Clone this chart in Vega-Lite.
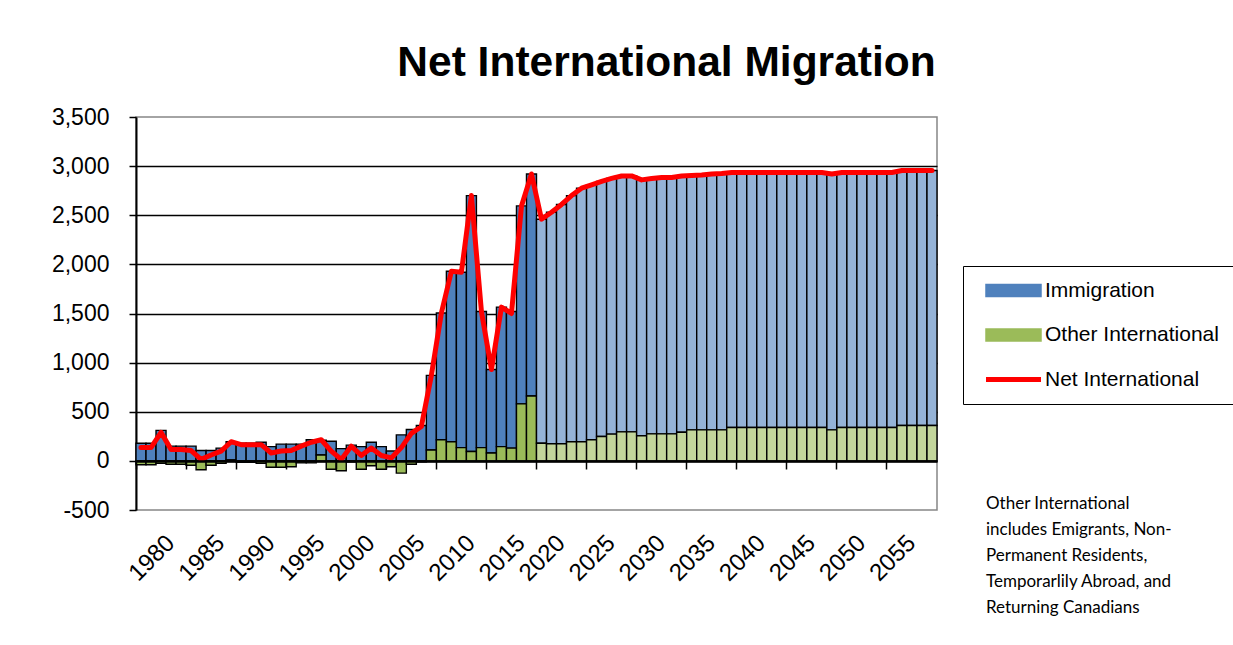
{
  "$schema": "https://vega.github.io/schema/vega-lite/v6.json",
  "autosize": "none",
  "width": 801,
  "height": 393,
  "padding": {"left": 136, "top": 117, "right": 296, "bottom": 135},
  "background": "white",
  "config": {
    "font": "Liberation Sans",
    "view": {"stroke": "#868686", "strokeWidth": 1.5}
  },
  "title": {
    "text": "Net International Migration",
    "font": "Liberation Sans",
    "fontSize": 42.5,
    "fontWeight": "bold",
    "color": "black",
    "anchor": "middle",
    "frame": "group",
    "dx": 130,
    "offset": 22
  },
  "datasets": {
    "mig": [
      {"year":1977,"series":"Immigration","value":180},{"year":1977,"series":"Other International","value":-40},{"year":1977,"series":"Net International","value":135},
      {"year":1978,"series":"Immigration","value":180},{"year":1978,"series":"Other International","value":-40},{"year":1978,"series":"Net International","value":135},
      {"year":1979,"series":"Immigration","value":310},{"year":1979,"series":"Other International","value":-25},{"year":1979,"series":"Net International","value":290},
      {"year":1980,"series":"Immigration","value":150},{"year":1980,"series":"Other International","value":-35},{"year":1980,"series":"Net International","value":115},
      {"year":1981,"series":"Immigration","value":150},{"year":1981,"series":"Other International","value":-35},{"year":1981,"series":"Net International","value":115},
      {"year":1982,"series":"Immigration","value":150},{"year":1982,"series":"Other International","value":-45},{"year":1982,"series":"Net International","value":105},
      {"year":1983,"series":"Immigration","value":105},{"year":1983,"series":"Other International","value":-90},{"year":1983,"series":"Net International","value":15},
      {"year":1984,"series":"Immigration","value":105},{"year":1984,"series":"Other International","value":-45},{"year":1984,"series":"Net International","value":60},
      {"year":1985,"series":"Immigration","value":130},{"year":1985,"series":"Other International","value":-25},{"year":1985,"series":"Net International","value":100},
      {"year":1986,"series":"Immigration","value":185},{"year":1986,"series":"Other International","value":10},{"year":1986,"series":"Net International","value":195},
      {"year":1987,"series":"Immigration","value":180},{"year":1987,"series":"Other International","value":-15},{"year":1987,"series":"Net International","value":165},
      {"year":1988,"series":"Immigration","value":180},{"year":1988,"series":"Other International","value":-15},{"year":1988,"series":"Net International","value":165},
      {"year":1989,"series":"Immigration","value":190},{"year":1989,"series":"Other International","value":-25},{"year":1989,"series":"Net International","value":165},
      {"year":1990,"series":"Immigration","value":145},{"year":1990,"series":"Other International","value":-65},{"year":1990,"series":"Net International","value":80},
      {"year":1991,"series":"Immigration","value":170},{"year":1991,"series":"Other International","value":-65},{"year":1991,"series":"Net International","value":100},
      {"year":1992,"series":"Immigration","value":170},{"year":1992,"series":"Other International","value":-60},{"year":1992,"series":"Net International","value":105},
      {"year":1993,"series":"Immigration","value":170},{"year":1993,"series":"Other International","value":-20},{"year":1993,"series":"Net International","value":150},
      {"year":1994,"series":"Immigration","value":215},{"year":1994,"series":"Other International","value":-20},{"year":1994,"series":"Net International","value":190},
      {"year":1995,"series":"Immigration","value":150},{"year":1995,"series":"Other International","value":60},{"year":1995,"series":"Net International","value":215},
      {"year":1996,"series":"Immigration","value":200},{"year":1996,"series":"Other International","value":-85},{"year":1996,"series":"Net International","value":100},
      {"year":1997,"series":"Immigration","value":125},{"year":1997,"series":"Other International","value":-100},{"year":1997,"series":"Net International","value":15},
      {"year":1998,"series":"Immigration","value":160},{"year":1998,"series":"Other International","value":-10},{"year":1998,"series":"Net International","value":150},
      {"year":1999,"series":"Immigration","value":145},{"year":1999,"series":"Other International","value":-85},{"year":1999,"series":"Net International","value":55},
      {"year":2000,"series":"Immigration","value":190},{"year":2000,"series":"Other International","value":-50},{"year":2000,"series":"Net International","value":130},
      {"year":2001,"series":"Immigration","value":145},{"year":2001,"series":"Other International","value":-85},{"year":2001,"series":"Net International","value":55},
      {"year":2002,"series":"Immigration","value":100},{"year":2002,"series":"Other International","value":-60},{"year":2002,"series":"Net International","value":30},
      {"year":2003,"series":"Immigration","value":265},{"year":2003,"series":"Other International","value":-125},{"year":2003,"series":"Net International","value":135},
      {"year":2004,"series":"Immigration","value":320},{"year":2004,"series":"Other International","value":-35},{"year":2004,"series":"Net International","value":280},
      {"year":2005,"series":"Immigration","value":360},{"year":2005,"series":"Other International","value":-10},{"year":2005,"series":"Net International","value":350},
      {"year":2006,"series":"Immigration","value":760},{"year":2006,"series":"Other International","value":110},{"year":2006,"series":"Net International","value":870},
      {"year":2007,"series":"Immigration","value":1290},{"year":2007,"series":"Other International","value":215},{"year":2007,"series":"Net International","value":1505},
      {"year":2008,"series":"Immigration","value":1735},{"year":2008,"series":"Other International","value":195},{"year":2008,"series":"Net International","value":1930},
      {"year":2009,"series":"Immigration","value":1785},{"year":2009,"series":"Other International","value":135},{"year":2009,"series":"Net International","value":1920},
      {"year":2010,"series":"Immigration","value":2605},{"year":2010,"series":"Other International","value":95},{"year":2010,"series":"Net International","value":2700},
      {"year":2011,"series":"Immigration","value":1385},{"year":2011,"series":"Other International","value":135},{"year":2011,"series":"Net International","value":1520},
      {"year":2012,"series":"Immigration","value":850},{"year":2012,"series":"Other International","value":80},{"year":2012,"series":"Net International","value":930},
      {"year":2013,"series":"Immigration","value":1420},{"year":2013,"series":"Other International","value":145},{"year":2013,"series":"Net International","value":1565},
      {"year":2014,"series":"Immigration","value":1390},{"year":2014,"series":"Other International","value":130},{"year":2014,"series":"Net International","value":1500},
      {"year":2015,"series":"Immigration","value":2015},{"year":2015,"series":"Other International","value":580},{"year":2015,"series":"Net International","value":2595},
      {"year":2016,"series":"Immigration","value":2260},{"year":2016,"series":"Other International","value":660},{"year":2016,"series":"Net International","value":2920},
      {"year":2018,"series":"Immigration projected","value":2280},{"year":2018,"series":"Other International projected","value":180},{"year":2018,"series":"Net International","value":2460},
      {"year":2019,"series":"Immigration projected","value":2355},{"year":2019,"series":"Other International projected","value":175},{"year":2019,"series":"Net International","value":2530},
      {"year":2020,"series":"Immigration projected","value":2435},{"year":2020,"series":"Other International projected","value":175},{"year":2020,"series":"Net International","value":2610},
      {"year":2021,"series":"Immigration projected","value":2505},{"year":2021,"series":"Other International projected","value":195},{"year":2021,"series":"Net International","value":2700},
      {"year":2022,"series":"Immigration projected","value":2580},{"year":2022,"series":"Other International projected","value":195},{"year":2022,"series":"Net International","value":2775},
      {"year":2023,"series":"Immigration projected","value":2595},{"year":2023,"series":"Other International projected","value":215},{"year":2023,"series":"Net International","value":2810},
      {"year":2024,"series":"Immigration projected","value":2597},{"year":2024,"series":"Other International projected","value":248},{"year":2024,"series":"Net International","value":2845},
      {"year":2025,"series":"Immigration projected","value":2603},{"year":2025,"series":"Other International projected","value":272},{"year":2025,"series":"Net International","value":2875},
      {"year":2026,"series":"Immigration projected","value":2605},{"year":2026,"series":"Other International projected","value":295},{"year":2026,"series":"Net International","value":2900},
      {"year":2027,"series":"Immigration projected","value":2605},{"year":2027,"series":"Other International projected","value":295},{"year":2027,"series":"Net International","value":2900},
      {"year":2028,"series":"Immigration projected","value":2605},{"year":2028,"series":"Other International projected","value":255},{"year":2028,"series":"Net International","value":2860},
      {"year":2029,"series":"Immigration projected","value":2600},{"year":2029,"series":"Other International projected","value":275},{"year":2029,"series":"Net International","value":2875},
      {"year":2030,"series":"Immigration projected","value":2610},{"year":2030,"series":"Other International projected","value":275},{"year":2030,"series":"Net International","value":2885},
      {"year":2031,"series":"Immigration projected","value":2610},{"year":2031,"series":"Other International projected","value":275},{"year":2031,"series":"Net International","value":2885},
      {"year":2032,"series":"Immigration projected","value":2608},{"year":2032,"series":"Other International projected","value":292},{"year":2032,"series":"Net International","value":2900},
      {"year":2033,"series":"Immigration projected","value":2589},{"year":2033,"series":"Other International projected","value":316},{"year":2033,"series":"Net International","value":2905},
      {"year":2034,"series":"Immigration projected","value":2594},{"year":2034,"series":"Other International projected","value":316},{"year":2034,"series":"Net International","value":2910},
      {"year":2035,"series":"Immigration projected","value":2604},{"year":2035,"series":"Other International projected","value":316},{"year":2035,"series":"Net International","value":2920},
      {"year":2036,"series":"Immigration projected","value":2609},{"year":2036,"series":"Other International projected","value":316},{"year":2036,"series":"Net International","value":2925},
      {"year":2037,"series":"Immigration projected","value":2595},{"year":2037,"series":"Other International projected","value":340},{"year":2037,"series":"Net International","value":2935},
      {"year":2038,"series":"Immigration projected","value":2595},{"year":2038,"series":"Other International projected","value":340},{"year":2038,"series":"Net International","value":2935},
      {"year":2039,"series":"Immigration projected","value":2595},{"year":2039,"series":"Other International projected","value":340},{"year":2039,"series":"Net International","value":2935},
      {"year":2040,"series":"Immigration projected","value":2595},{"year":2040,"series":"Other International projected","value":340},{"year":2040,"series":"Net International","value":2935},
      {"year":2041,"series":"Immigration projected","value":2595},{"year":2041,"series":"Other International projected","value":340},{"year":2041,"series":"Net International","value":2935},
      {"year":2042,"series":"Immigration projected","value":2595},{"year":2042,"series":"Other International projected","value":340},{"year":2042,"series":"Net International","value":2935},
      {"year":2043,"series":"Immigration projected","value":2595},{"year":2043,"series":"Other International projected","value":340},{"year":2043,"series":"Net International","value":2935},
      {"year":2044,"series":"Immigration projected","value":2595},{"year":2044,"series":"Other International projected","value":340},{"year":2044,"series":"Net International","value":2935},
      {"year":2045,"series":"Immigration projected","value":2595},{"year":2045,"series":"Other International projected","value":340},{"year":2045,"series":"Net International","value":2935},
      {"year":2046,"series":"Immigration projected","value":2595},{"year":2046,"series":"Other International projected","value":340},{"year":2046,"series":"Net International","value":2935},
      {"year":2047,"series":"Immigration projected","value":2604},{"year":2047,"series":"Other International projected","value":316},{"year":2047,"series":"Net International","value":2920},
      {"year":2048,"series":"Immigration projected","value":2595},{"year":2048,"series":"Other International projected","value":340},{"year":2048,"series":"Net International","value":2935},
      {"year":2049,"series":"Immigration projected","value":2595},{"year":2049,"series":"Other International projected","value":340},{"year":2049,"series":"Net International","value":2935},
      {"year":2050,"series":"Immigration projected","value":2595},{"year":2050,"series":"Other International projected","value":340},{"year":2050,"series":"Net International","value":2935},
      {"year":2051,"series":"Immigration projected","value":2595},{"year":2051,"series":"Other International projected","value":340},{"year":2051,"series":"Net International","value":2935},
      {"year":2052,"series":"Immigration projected","value":2595},{"year":2052,"series":"Other International projected","value":340},{"year":2052,"series":"Net International","value":2935},
      {"year":2053,"series":"Immigration projected","value":2595},{"year":2053,"series":"Other International projected","value":340},{"year":2053,"series":"Net International","value":2935},
      {"year":2054,"series":"Immigration projected","value":2595},{"year":2054,"series":"Other International projected","value":360},{"year":2054,"series":"Net International","value":2955},
      {"year":2055,"series":"Immigration projected","value":2595},{"year":2055,"series":"Other International projected","value":360},{"year":2055,"series":"Net International","value":2955},
      {"year":2056,"series":"Immigration projected","value":2595},{"year":2056,"series":"Other International projected","value":360},{"year":2056,"series":"Net International","value":2955},
      {"year":2057,"series":"Immigration projected","value":2595},{"year":2057,"series":"Other International projected","value":360},{"year":2057,"series":"Net International","value":2955}
    ],
    "note": [
      {"note": ["Other International", "includes Emigrants, Non-", "Permanent Residents,", "Temporarlily Abroad, and", "Returning Canadians"]}
    ]
  },
  "layer": [
    {
      "data": {"name": "mig"},
      "transform": [{"filter": "datum.series !== 'Net International'"}],
      "mark": {"type": "bar", "stroke": "black", "strokeWidth": 1.4},
      "encoding": {
        "x": {
          "field": "year", "type": "ordinal", "title": null,
          "scale": {"paddingInner": 0, "paddingOuter": 0},
          "axis": {
            "orient": "bottom",
            "values": [1980,1985,1990,1995,2000,2005,2010,2015,2020,2025,2030,2035,2040,2045,2050,2055],
            "labelAngle": -45, "labelAlign": "right", "labelBaseline": "middle",
            "labelFont": "Liberation Sans", "labelFontSize": 24, "labelColor": "black",
            "labelPadding": 29, "labelOverlap": false, "labelBound": false,
            "ticks": false, "domain": false, "grid": false
          }
        },
        "y": {
          "field": "value", "type": "quantitative", "stack": "zero", "title": null,
          "scale": {"domain": [-500, 3500], "nice": false, "zero": false},
          "axis": {
            "values": [-500,0,500,1000,1500,2000,2500,3000,3500],
            "format": ",.0f",
            "labelExpr": "replace(datum.label, '\u2212', '-')",
            "labelFont": "Liberation Sans", "labelFontSize": 23, "labelColor": "black",
            "labelPadding": 20,
            "tickColor": "black", "tickSize": 7, "tickWidth": 1.5,
            "domainColor": "black", "domainWidth": 2,
            "gridColor": {"condition": {"test": "datum.value === 3500 || datum.value === -500", "value": "transparent"}, "value": "black"},
            "gridWidth": 1.6
          }
        },
        "color": {
          "field": "series", "type": "nominal",
          "scale": {
            "domain": ["Immigration", "Other International", "Net International", "Immigration projected", "Other International projected"],
            "range": ["#4F81BD", "#9BBB59", "#FF0000", "#95B3D7", "#C3D69B"]
          },
          "legend": {
            "values": ["Immigration", "Other International", "Net International"],
            "title": null,
            "orient": "none",
            "legendX": 827,
            "legendY": 149,
            "direction": "vertical",
            "strokeColor": "black",
            "fillColor": "white",
            "padding": 14,
            "symbolOffset": 26,
            "labelOffset": 21,
            "rowPadding": 22.5,
            "labelFont": "Liberation Sans",
            "labelFontSize": 21,
            "labelColor": "black",
            "labelLimit": 400,
            "symbolStrokeColor": "black",
            "symbolStrokeWidth": 1.5,
            "encode": {
              "symbols": {
                "update": {
                  "shape": {"signal": "datum.value === 'Net International' ? 'M-1,-0.09H1V0.09H-1Z' : 'M-1,-0.22H1V0.22H-1Z'"},
                  "size": {"value": 3025},
                  "stroke": {"value": "black"},
                  "strokeWidth": {"signal": "datum.value === 'Net International' ? 0 : 1.5"},
                  "opacity": {"value": 1},
                  "fillOpacity": {"value": 1},
                  "strokeOpacity": {"value": 1}
                }
              }
            }
          }
        },
        "order": {"field": "series", "sort": "descending"}
      }
    },
    {
      "data": {"name": "mig"},
      "transform": [{"filter": "datum.series === 'Net International'"}],
      "mark": {"type": "line", "strokeWidth": 5, "strokeJoin": "round", "strokeCap": "round"},
      "encoding": {
        "x": {
          "field": "year", "type": "ordinal", "title": null,
          "axis": {
            "orient": "bottom",
            "values": [1977,1982,1987,1992,1997,2002,2007,2012,2018,2023,2028,2033,2038,2043,2048,2053],
            "bandPosition": 0,
            "labels": false,
            "ticks": true, "tickSize": 8, "tickColor": "black", "tickWidth": 1.5,
            "domain": true, "domainColor": "black", "domainWidth": 2.5,
            "grid": false,
            "offset": -49,
            "zindex": 1
          }
        },
        "y": {"field": "value", "type": "quantitative", "stack": null, "title": null},
        "color": {
          "field": "series", "type": "nominal",
          "legend": {
            "values": ["Immigration", "Other International", "Net International"],
            "title": null,
            "orient": "none",
            "legendX": 827,
            "legendY": 149,
            "direction": "vertical",
            "strokeColor": "black",
            "fillColor": "white",
            "padding": 14,
            "symbolOffset": 26,
            "labelOffset": 21,
            "rowPadding": 22.5,
            "labelFont": "Liberation Sans",
            "labelFontSize": 21,
            "labelColor": "black",
            "labelLimit": 400,
            "symbolStrokeColor": "black",
            "symbolStrokeWidth": 1.5,
            "encode": {
              "symbols": {
                "update": {
                  "shape": {"signal": "datum.value === 'Net International' ? 'M-1,-0.09H1V0.09H-1Z' : 'M-1,-0.22H1V0.22H-1Z'"},
                  "size": {"value": 3025},
                  "stroke": {"value": "black"},
                  "strokeWidth": {"signal": "datum.value === 'Net International' ? 0 : 1.5"},
                  "opacity": {"value": 1},
                  "fillOpacity": {"value": 1},
                  "strokeOpacity": {"value": 1}
                }
              }
            }
          }
        }
      }
    },
    {
      "data": {"name": "note"},
      "mark": {"type": "text", "align": "left", "baseline": "top", "dx": 54, "font": "Lato", "fontSize": 17, "lineHeight": 26, "color": "black"},
      "encoding": {
        "x": {"datum": 2057, "type": "ordinal", "axis": null},
        "y": {"datum": -360, "type": "quantitative"},
        "text": {"field": "note"}
      }
    }
  ],
  "resolve": {"axis": {"x": "independent"}}
}
